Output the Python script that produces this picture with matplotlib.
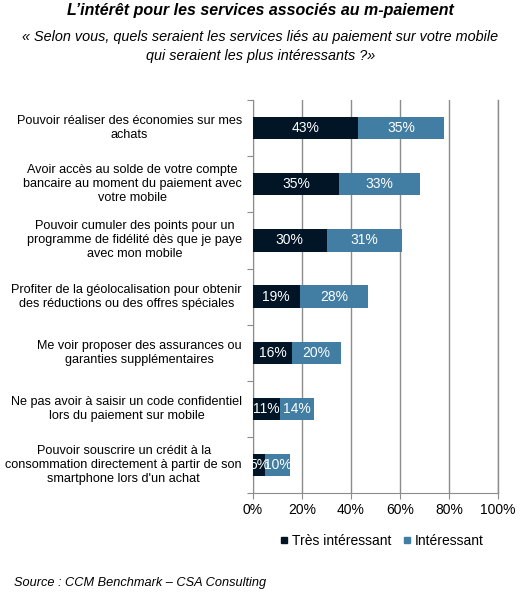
import matplotlib
matplotlib.use("Agg")
import matplotlib.pyplot as plt
from matplotlib.lines import Line2D

plt.rcParams['font.family'] = ['Liberation Sans', 'DejaVu Sans']

categories = [
    "Pouvoir réaliser des économies sur mes\nachats",
    "Avoir accès au solde de votre compte\nbancaire au moment du paiement avec\nvotre mobile",
    "Pouvoir cumuler des points pour un\nprogramme de fidélité dès que je paye\navec mon mobile",
    "Profiter de la géolocalisation pour obtenir\ndes réductions ou des offres spéciales",
    "Me voir proposer des assurances ou\ngaranties supplémentaires",
    "Ne pas avoir à saisir un code confidentiel\nlors du paiement sur mobile",
    "Pouvoir souscrire un crédit à la\nconsommation directement à partir de son\nsmartphone lors d'un achat",
]
tres_interessant = [43, 35, 30, 19, 16, 11, 5]
interessant = [35, 33, 31, 28, 20, 14, 10]
xticks = [0, 20, 40, 60, 80, 100]

dark = "#021526"
blue = "#427EA3"
grid = "#8c8c8c"

fig = plt.figure(figsize=(5.21, 5.95), dpi=100)
ax = fig.add_axes([0.4856, 0.171, 0.4704, 0.661])

y = list(range(len(categories)))
ax.barh(y, tres_interessant, height=0.4, color=dark, zorder=3)
ax.barh(y, interessant, left=tres_interessant, height=0.4, color=blue, zorder=3)

for i in y:
    a = tres_interessant[i]
    b = interessant[i]
    ax.text(a / 2, i, f"{a}%", color="white", ha="center", va="center", fontsize=10, zorder=4)
    ax.text(a + b / 2, i, f"{b}%", color="white", ha="center", va="center", fontsize=10, zorder=4)

ax.set_xlim(0, 100)
ax.set_ylim(len(categories) - 0.5, -0.5)
ax.set_xticks(xticks)
ax.set_xticklabels([f"{t}%" for t in xticks], fontsize=10)
ax.xaxis.grid(True, color=grid, linewidth=1, zorder=0)
ax.axvline(100, color=grid, linewidth=1, zorder=0, clip_on=False)
ax.tick_params(axis='x', length=4, color=grid, pad=3)

# category boundaries as y ticks
ax.set_yticks([k - 0.5 for k in range(len(categories) + 1)])
ax.set_yticklabels([])
ax.tick_params(axis='y', length=4, color=grid, direction='out')
for i, lab in enumerate(categories):
    ax.text(-0.045, i, lab, transform=ax.get_yaxis_transform(), ha="right", va="center",
            multialignment="center", fontsize=9.1, linespacing=1.22)

for s in ["top", "right"]:
    ax.spines[s].set_visible(False)
for s in ["left", "bottom"]:
    ax.spines[s].set_color(grid)

fig.text(0.5, 0.982, "L\u2019intérêt pour les services associés au m-paiement", ha="center", va="center",
         fontsize=11.5, fontweight="bold", fontstyle="italic")
fig.text(0.5, 0.922, "« Selon vous, quels seraient les services liés au paiement sur votre mobile\nqui seraient les plus intéressants ?»",
         ha="center", va="center", fontsize=10.4, fontstyle="italic", linespacing=1.45)
fig.text(0.027, 0.02, "Source : CCM Benchmark \u2013 CSA Consulting", ha="left", va="center",
         fontsize=9.2, fontstyle="italic")

handles = [Line2D([], [], marker="s", linestyle="", color=dark, markersize=5),
           Line2D([], [], marker="s", linestyle="", color=blue, markersize=5)]
fig.legend(handles, ["Très intéressant", "Intéressant"], loc="center", bbox_to_anchor=(0.73, 0.091),
           ncol=2, frameon=False, fontsize=10, handletextpad=0.05, columnspacing=0.6, handlelength=1)

fig.savefig("out.png", dpi=100)
